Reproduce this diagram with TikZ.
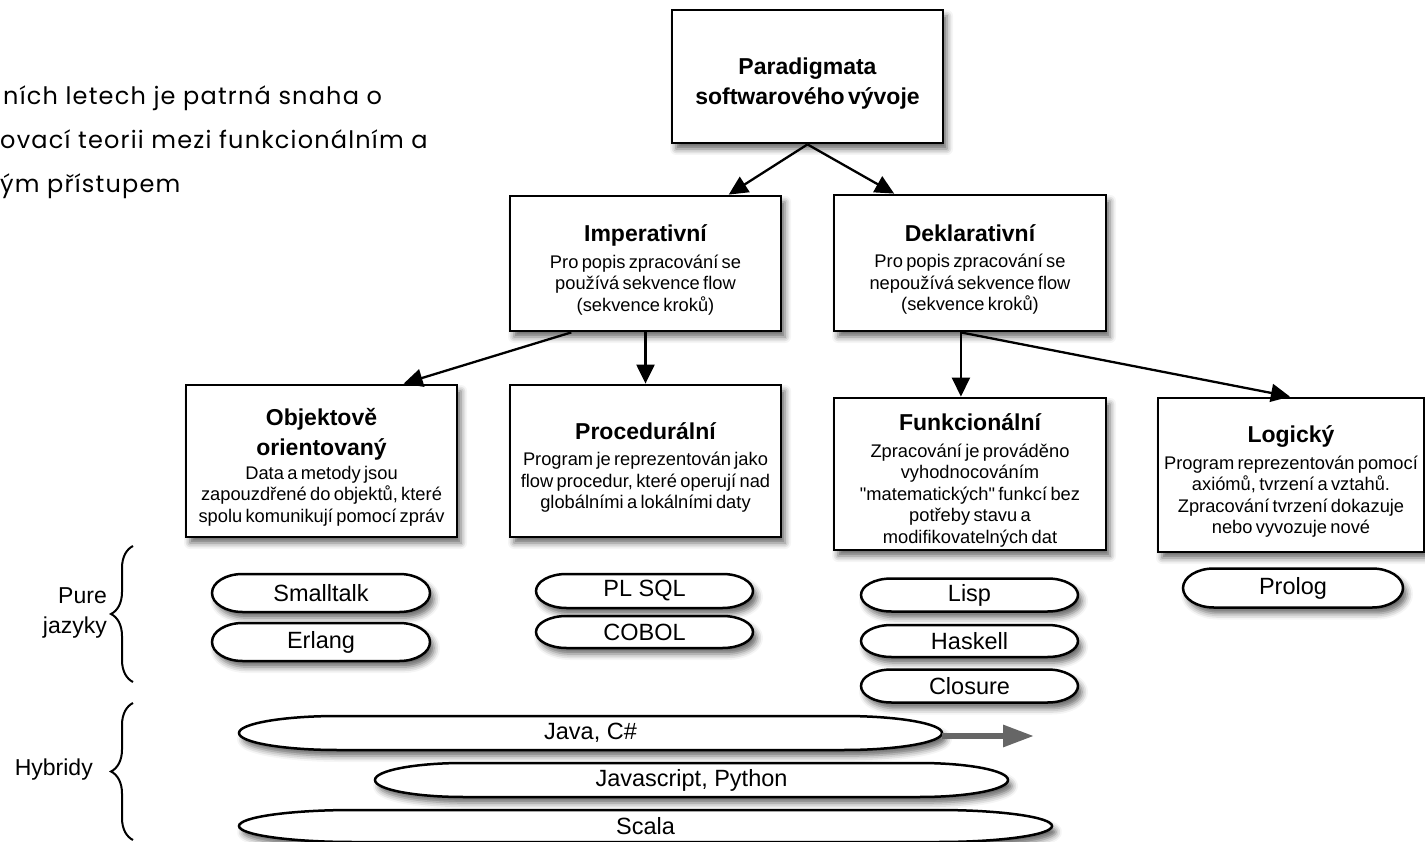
\documentclass[tikz,border=0pt]{standalone}
\usepackage{fontspec}
\setmainfont{Liberation Sans}
\newfontfamily\quotefont{Liberation Sans}[Ligatures=TeXOff]
\newfontfamily\introfont[LetterSpace=5]{Poppins}
\usetikzlibrary{arrows.meta,shadows.blur,decorations.pathreplacing,calc}
\newcommand\boxtitle{\fontsize{23}{30}\selectfont\bfseries}
\newcommand\boxbody{\fontsize{18.3}{21.5}\selectfont}
\newcommand\cl[1]{\par\noindent\hbox to\hsize{\hss#1\hss}\par}
\newcommand\titlegap{\vspace{5pt}}
\newcommand\sq{{\quotefont\symbol{34}}}
\tikzset{
  box/.style={draw=black, line width=2.8pt, fill=white, inner sep=0pt,
    blur shadow={shadow xshift=4pt, shadow yshift=-6pt, shadow blur radius=6pt, shadow opacity=60}},
  pillline/.style={draw=black, line width=2.5pt, fill=white,
    blur shadow={shadow xshift=4pt, shadow yshift=-6pt, shadow blur radius=6pt, shadow opacity=60}},
  pilltext/.style={inner sep=0pt, font=\fontsize{23.5}{26}\selectfont},
  conn/.style={line width=2.3pt, -{Triangle[length=19pt,width=18pt]}},
  grayarrow/.style={line width=6pt, draw=black!60, -{Triangle[length=31pt,width=21pt]}},
  sidebrace/.style={line width=2pt, decorate, decoration={brace, amplitude=22pt}},
  sidelabel/.style={inner sep=0pt, align=right, font=\fontsize{23}{30}\selectfont},
  introline/.style={inner sep=0pt, anchor=base west, text=black, font=\introfont\fontsize{24}{28}\selectfont}
}
% #1 name, #2 x left, #3 x right, #4 y centre, #5 height, #6 text
\newcommand\pill[6]{%
  \pgfmathsetmacro\pilC{0.14*(#3-#2)}%
  \pgfmathsetmacro\pilA{#2+\pilC}%
  \pgfmathsetmacro\pilB{#3-\pilC}%
  \pgfmathsetmacro\pilR{#5/2}%
  \pgfmathsetmacro\pilT{#4-\pilR}%
  \pgfmathsetmacro\pilD{#4+\pilR}%
  \pgfmathsetmacro\pilW{#3-#2}%
  \pgfmathsetmacro\pilM{(#2+#3)/2}%
  \draw[pillline] (\pilA,\pilT) -- (\pilB,\pilT)
    arc[start angle=90, end angle=-90, x radius=\pilC pt, y radius=\pilR pt]
    -- (\pilA,\pilD)
    arc[start angle=270, end angle=90, x radius=\pilC pt, y radius=\pilR pt] -- cycle;
  \node[pilltext, minimum width=\pilW pt, minimum height=#5pt] (#1) at (\pilM,#4) {#6};
}
\begin{document}
\begin{tikzpicture}[x=1pt,y=-1pt]
\useasboundingbox (0,0) rectangle (1425,842);

% intro text (cut off at the left edge)
\node[introline] (intro1) at (3,105) {ních letech je patrná snaha o};
\node[introline] (intro2) at (0,149) {ovací teorii mezi funkcionálním a};
\node[introline] (intro3) at (0,193) {ým přístupem};

% boxes
\node[box, minimum width=271pt, minimum height=133pt, text width=271pt] (top) at (807.5,76.5)
  {{\boxtitle\cl{Paradigmata}\cl{softwarového vývoje}}};
\node[box, minimum width=271pt, minimum height=135pt, text width=271pt] (imp) at (645.5,263.5)
  {{\boxtitle\cl{Imperativní}}\titlegap{\boxbody\cl{Pro popis zpracování se}\cl{používá sekvence flow}\cl{(sekvence kroků)}}};
\node[box, minimum width=272pt, minimum height=136pt, text width=272pt] (dek) at (970,263)
  {{\boxtitle\cl{Deklarativní}}\titlegap{\boxbody\cl{Pro popis zpracování se}\cl{nepoužívá sekvence flow}\cl{(sekvence kroků)}}};
\node[box, minimum width=271pt, minimum height=152pt, text width=271pt] (obj) at (321.5,461)
  {{\boxtitle\cl{Objektově}\cl{orientovaný}}\vspace{2pt}{\boxbody\cl{Data a metody jsou}\cl{zapouzdřené do objektů, které}\cl{spolu komunikují pomocí zpráv}}};
\node[box, minimum width=271pt, minimum height=152pt, text width=271pt] (proc) at (645.5,461)
  {{\boxtitle\cl{Procedurální}}\titlegap{\boxbody\cl{Program je reprezentován jako}\cl{flow procedur, které operují nad}\cl{globálními a lokálními daty}}};
\node[box, minimum width=272pt, minimum height=152pt, text width=272pt] (fun) at (970,474)
  {{\boxtitle\cl{Funkcionální}}\titlegap{\boxbody\cl{Zpracování je prováděno}\cl{vyhodnocováním}\cl{\sq matematických\sq{} funkcí bez}\cl{potřeby stavu a}\cl{modifikovatelných dat}}};
\node[box, minimum width=266pt, minimum height=154pt, text width=266pt] (log) at (1291,475)
  {{\boxtitle\cl{Logický}}\titlegap{\boxbody\cl{Program reprezentován pomocí}\cl{axiómů, tvrzení a vztahů.}\cl{Zpracování tvrzení dokazuje}\cl{nebo vyvozuje nové}}};

% connectors
\draw[conn] (top.south) -- ($(imp.north west)!0.804!(imp.north east)$);
\draw[conn] (top.south) -- ($(dek.north west)!0.224!(dek.north east)$);
\draw[conn] ($(imp.south west)!0.229!(imp.south east)$) -- ($(obj.north west)!0.80!(obj.north east)$);
\draw[conn] (imp.south) -- (proc.north);
\draw[conn] ($(dek.south west)!0.467!(dek.south east)$) -- ($(fun.north west)!0.467!(fun.north east)$);
\draw[conn] ($(dek.south west)!0.467!(dek.south east)$) -- ($(log.north west)!0.496!(log.north east)$);

% pure languages
\pill{smalltalk}{212}{430}{593}{38}{Smalltalk}
\pill{erlang}{212}{430}{642}{38}{Erlang}
\pill{plsql}{536}{753}{591}{34}{PL SQL}
\pill{cobol}{536}{753}{632}{32}{COBOL}
\pill{lisp}{861}{1078}{595}{33}{Lisp}
\pill{haskell}{861}{1078}{641}{32}{Haskell}
\pill{closure}{861}{1078}{686}{33}{Closure}
\pill{prolog}{1183}{1403}{588}{39}{Prolog}

% hybrids
\pill{java}{239}{942}{733}{34}{Java, C\#}
\pill{jspy}{375}{1008}{780}{34}{Javascript, Python}
\pill{scala}{239}{1052}{826}{32}{Scala}

\coordinate (javaend) at (1034,736);
\draw[grayarrow] ($(java.east)+(0,3)$) -- (javaend);

% braces and side labels
\coordinate (pureB) at (133,682);
\coordinate (pureT) at (133,546);
\coordinate (hybB) at (133,840);
\coordinate (hybT) at (133,703);
\draw[sidebrace] (pureB) -- (pureT);
\draw[sidebrace] (hybB) -- (hybT);
\node[sidelabel, anchor=east] (purelabel) at (107,613) {Pure\\jazyky};
\node[sidelabel, anchor=east] (hyblabel) at (93,770) {Hybridy};
\end{tikzpicture}
\end{document}
